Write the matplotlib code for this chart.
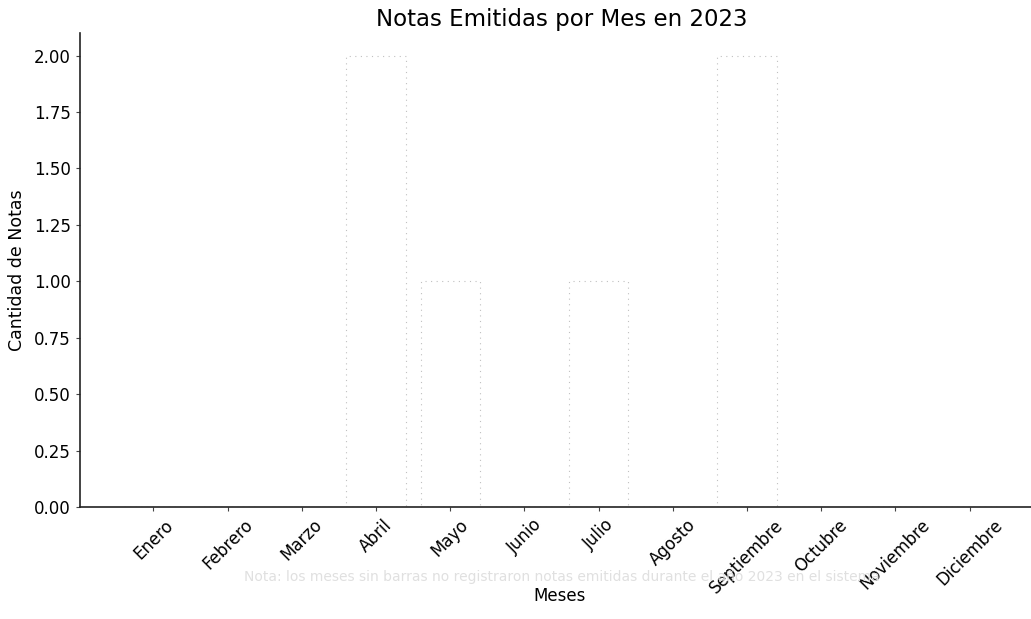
import matplotlib
matplotlib.use("Agg")
import matplotlib.pyplot as plt

meses = ["Enero", "Febrero", "Marzo", "Abril", "Mayo", "Junio", "Julio",
         "Agosto", "Septiembre", "Octubre", "Noviembre", "Diciembre"]
notas = [0, 0, 0, 2, 1, 0, 1, 0, 2, 0, 0, 0]
yticks = [0.00, 0.25, 0.50, 0.75, 1.00, 1.25, 1.50, 1.75, 2.00]

plt.rcParams['font.family'] = ['DejaVu Sans']
fig = plt.figure(figsize=(10.31, 6.19), dpi=100)
ax = fig.add_axes([80/1031, 1-507/619, (1043-80)/1031, (507-33)/619])

x = list(range(len(meses)))
ax.bar(x, notas, width=0.8, color="white", edgecolor="#c0c0c0",
       linewidth=0.8, linestyle=(0, (1, 4)))

ax.set_xticks(x)
ax.set_xticklabels(meses, rotation=45, ha="center", fontsize=12)
ax.set_yticks(yticks)
ax.set_yticklabels([f"{v:.2f}" for v in yticks], fontsize=12)
ax.set_ylim(0, 2.1)
ax.set_xlim(-0.99, 11.99)
ax.tick_params(axis="both", length=3, color="#444444")

for s in ["top", "right"]:
    ax.spines[s].set_visible(False)
for s in ["left", "bottom"]:
    ax.spines[s].set_color("#222222")
    ax.spines[s].set_linewidth(1.2)

ax.set_title("Notas Emitidas por Mes en 2023", fontsize=16.5, pad=5)
ax.set_ylabel("Cantidad de Notas", fontsize=12.5, labelpad=6)
ax.set_xlabel("Meses", fontsize=12)
ax.xaxis.set_label_coords((560-80)/(1043-80), -(587-507)/(507-33))

fig.text(0.545, 1-577/619,
         "Nota: los meses sin barras no registraron notas emitidas durante el año 2023 en el sistema",
         ha="center", va="center", fontsize=10, color="#e0e0e0")

fig.savefig("out.png", dpi=100)
